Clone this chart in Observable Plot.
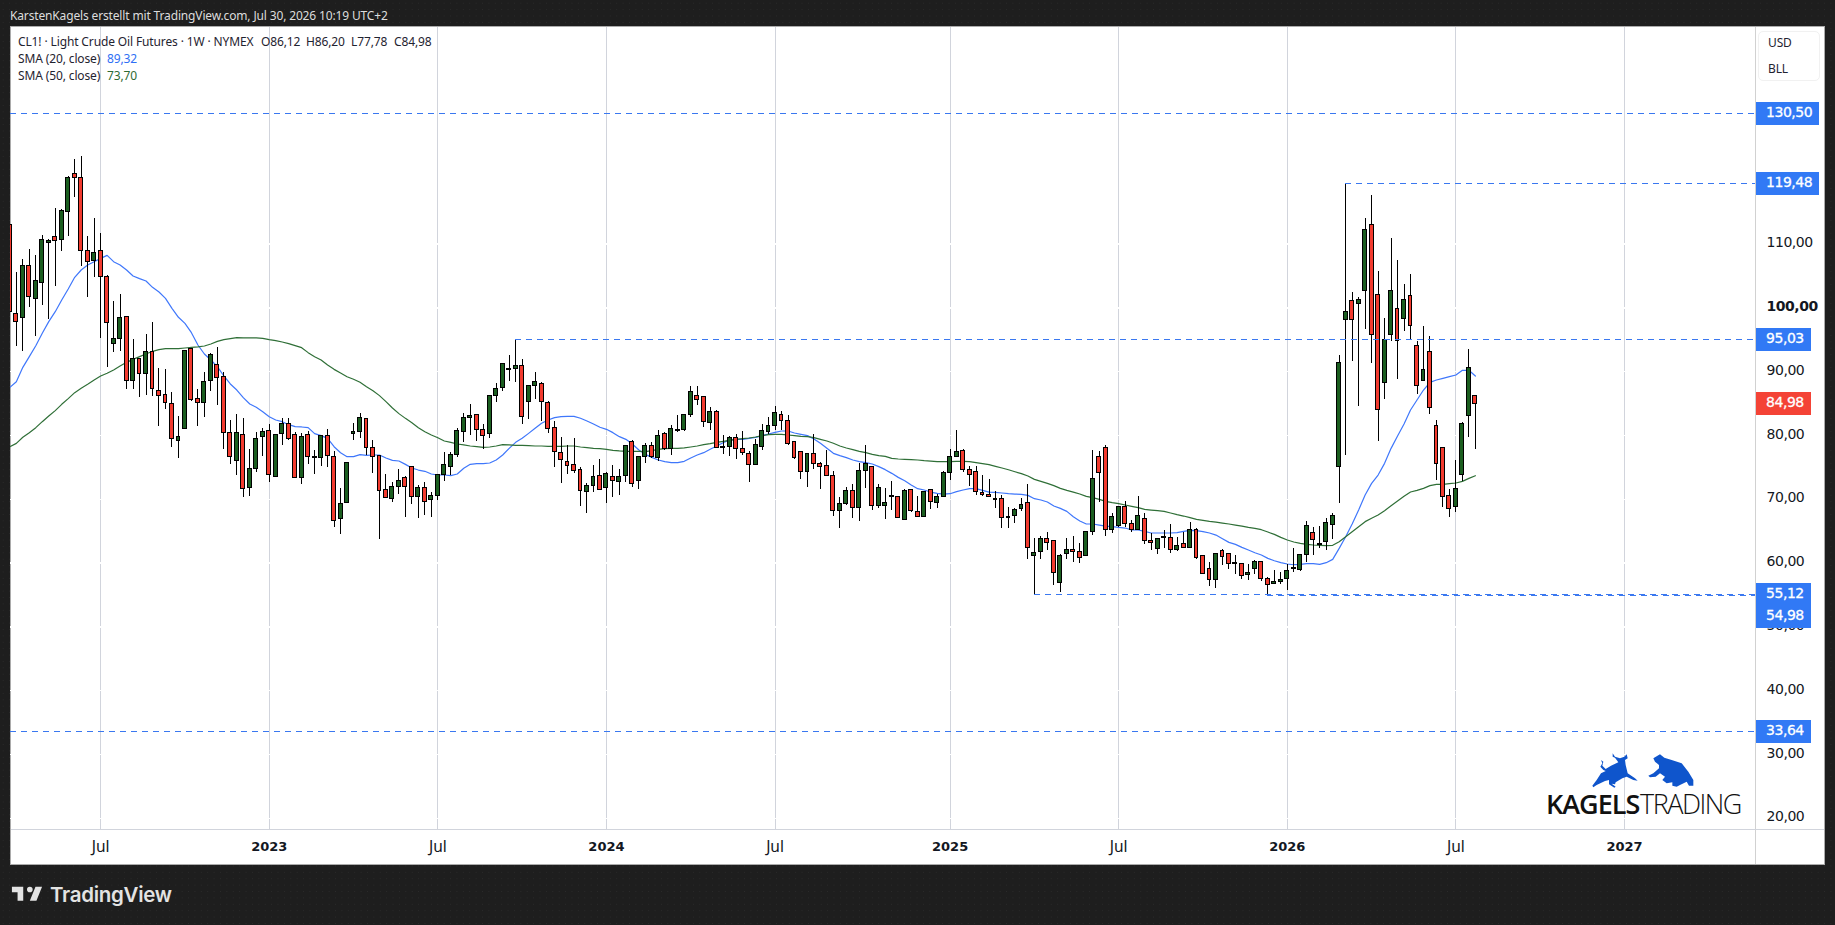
<!DOCTYPE html>
<html><head><meta charset="utf-8">
<script src="https://cdn.jsdelivr.net/npm/d3@7"></script>
<script src="https://cdn.jsdelivr.net/npm/@observablehq/plot@0.6"></script>
<style>
html,body{margin:0;padding:0;width:1835px;height:925px;overflow:hidden}
body{background-color:#1e1e1e;background-image:radial-gradient(#2b2b2b .6px,transparent .8px);background-size:6.4px 6.4px;position:relative;font-family:"DejaVu Sans",sans-serif}
#panel{position:absolute;left:10px;top:26px;width:1813px;height:837px;background:#fff;border:1px solid #ababab;box-sizing:content-box}
#sepV{position:absolute;left:1755px;top:27px;width:1px;height:837px;background:#d1d1d1}
#sepH{position:absolute;left:11px;top:829px;width:1813px;height:1px;background:#d1d4dc}
#chart{position:absolute;left:0;top:0}
#chart g[aria-label="y-axis tick label"] text,#chart .prc text{letter-spacing:-.45px}
.t{position:absolute;white-space:pre;line-height:16px}
#hdr{left:10px;top:8px;color:#dcdcdc;font:12px/16px "Noto Sans",sans-serif;letter-spacing:-.15px}
.lg{color:#1f2330;font:12px/16px "Noto Sans",sans-serif;letter-spacing:-.13px}
#unit{position:absolute;left:1758px;top:31px;width:62px;height:50px;border:1px solid #f1f1f1;border-radius:5px;box-sizing:border-box}
.logo{top:785px;line-height:38px;font-family:"Open Sans",sans-serif;font-size:27px;color:#111}
#tvT{left:50px;top:881px;font:600 20.5px/28px Inter,sans-serif;color:#e3e3e3;letter-spacing:-.3px}
svg.ic{position:absolute}
</style></head><body>
<div id="panel"></div>
<div id="chart"></div>
<div id="sepV"></div><div id="sepH"></div>
<div class="t" id="hdr">KarstenKagels erstellt mit TradingView.com, Jul 30, 2026 10:19 UTC+2</div>
<div class="t lg" style="left:18px;top:34px">CL1! · Light Crude Oil Futures · 1W · NYMEX</div>
<div class="t lg" style="left:261px;top:34px">O86,12</div>
<div class="t lg" style="left:306px;top:34px">H86,20</div>
<div class="t lg" style="left:351px;top:34px">L77,78</div>
<div class="t lg" style="left:394px;top:34px">C84,98</div>
<div class="t lg" style="left:18px;top:51px">SMA (20, close)</div>
<div class="t lg" style="left:107px;top:51px;color:#2f6ff5">89,32</div>
<div class="t lg" style="left:18px;top:68px">SMA (50, close)</div>
<div class="t lg" style="left:107px;top:68px;color:#2e6b34">73,70</div>
<div id="unit"></div>
<div class="t lg" style="left:1768px;top:35px">USD</div>
<div class="t lg" style="left:1768px;top:61px">BLL</div>
<svg class="ic" style="left:1585px;top:745px" width="125" height="50" viewBox="0 0 375 150">
<path fill="#0f55cc" d="M48 45L55 50L52 62L62 72L78 62L100 52L90 38L83 35L83 25L90 35L105 40L118 35L125 28L128 40L120 45L122 60L128 85L150 100L158 107L145 105L125 95L112 100L92 112L90 118L80 116L92 125L88 128L72 118L72 105L60 108L35 120L25 127L22 122L35 105L48 85L62 78L55 75L46 65L52 55Z"/>
<path fill="#0f55cc" d="M205 40L225 28L238 38L260 45L290 55L310 80L325 105L325 122L312 122L305 110L285 120L275 125L262 122L262 112L245 115L232 105L240 95L225 85L212 95L195 97L190 92L205 85L222 70L222 60L210 50Z"/>
</svg>
<div class="t logo" style="left:1546px;font-weight:600;letter-spacing:-1px">KAGELS</div>
<div class="t logo" style="left:1640px;font-weight:300;letter-spacing:-1.5px">TRADING</div>
<svg class="ic" style="left:10px;top:881px" width="34" height="26.4" viewBox="0 0 36 28"><path fill="#e3e3e3" d="M14 6H2v6h6v9h6V6Zm14 15h-7l6-15h7l-6 15Zm-7-9a3 3 0 1 0 0-6 3 3 0 0 0 0 6Z"/></svg>
<div class="t" id="tvT">TradingView</div>
<script>
// Weekly candles CL1!, index 0 = first candle visible at the left edge
const opens=[113,99,98.37,106.52,101.35,103.96,110.23,111.07,110.6,114.98,
120.94,120.31,108.87,107.3,108.87,104.85,94.4,95.08,98.53,88.49,
91.94,89.59,93.04,86.93,86.3,84.89,79.19,80.97,93.51,85.67,
85.15,88.49,91,89.12,80.34,75.95,80.03,71.72,74.7,79.82,
80.66,73.45,80.19,81.75,80.03,73.29,80.03,76.58,76.42,79.87,
76.58,66.86,69.37,80.19,80.5,82.54,77.99,76.74,71.41,70,
71.88,73.29,75.01,70.31,71.72,69.84,70.47,73.87,75.02,77,
80.61,82.8,83.17,80.82,80.19,86.14,87.4,90.27,90.48,90.85,
85.2,87.71,88.03,85.05,81.13,77.21,75.8,75.33,74.55,71.1,
72.04,73.6,71.72,73.45,72.66,73.6,78.93,72.82,76.58,78.31,
76.43,80.19,77.84,80.66,80.82,83.17,86.14,85.99,81.91,83.64,
78.1,78.15,79.56,77.84,77.05,75.33,78.15,80.5,81.44,83.17,
82.23,78.93,77.37,74.23,77.05,75.49,75.17,73.6,68.12,69.22,
71.25,68.59,74.39,75.02,68.9,69,70.36,70.31,66.7,71.41,
67.96,67.17,71.41,69.37,70.41,74.07,76.58,77.52,74.54,74.23,
70.93,70.62,69.89,69.99,67.07,67.33,68.43,69.37,61.06,61.69,
63.72,63.41,56.83,61.37,62,61.69,61.06,64.82,76.58,77.99,
65.14,65.76,68.74,66.08,65.14,66.86,63.41,62.16,63.93,63.88,
62,62.94,62.31,65.14,61.06,59.02,57.3,61.84,61.37,59.86,
59.81,58.08,59.02,60.12,57.45,56.67,56.98,57.45,59.02,58.87,
61.22,64.66,62.79,63.26,65.92,75.01,98.06,101.03,100.56,102.6,
112.95,101.97,88.18,95.7,99.78,98.21,101.82,93.98,88.49,93.04,
81.44,77.99,70.47,68.74,73.76,83.01,86.12];
const closes=[99.41,97.85,106.52,101.76,104.17,110.6,110.44,110.44,115.19,120.31,
120.42,108.87,107.15,108.56,104.8,97.58,95.08,98.37,88.49,91.94,
89.59,93.04,87.24,86.14,85.04,79.4,79.72,93.2,85.52,85.15,
88.34,92.57,88.96,80.34,76.58,80.34,71.56,74.7,79.4,80.5,
73.76,80.03,81.75,79.4,73.29,79.72,76.58,76.42,79.87,76.74,
66.55,69.21,75.64,80.5,82.69,77.99,76.58,71.25,70.15,71.88,
72.82,71.88,70.31,71.72,69.53,70.47,73.76,75.33,76.9,80.66,
82.7,83.01,80.82,79.98,86.14,87.24,91.16,90.38,90.85,82.85,
87.71,88.34,85.2,80.97,77.37,76.11,75.17,74.39,71.25,72.04,
73.45,71.41,73.92,72.82,73.45,78.31,72.35,76.58,78.31,76.58,
79.87,77.84,80.97,80.82,83.17,86.77,85.52,82.07,83.64,77.99,
78.2,79.56,77.84,77.21,75.33,78.46,80.66,81.44,83.48,82.23,
78.62,76.43,74.23,77.05,75.49,75.02,73.6,68.12,69.22,71.25,
68.59,74.39,75.49,68.9,71.72,69.37,70.46,67.02,71.25,68.11,
67.17,71.09,69.52,70.31,74.07,76.58,77.36,74.54,73.76,71.09,
70.62,70.31,69.99,67.02,67.17,68.27,69.05,62.31,61.53,63.72,
63.1,58.39,61.06,62,61.69,60.75,64.82,73.13,74.07,65.14,
67.17,68.74,66.08,65.14,67.33,63.41,63.1,63.72,64.04,62,
62.63,62.31,65.14,60.75,58.24,57.3,61.37,60.9,59.81,59.96,
57.92,58.39,60.12,57.45,56.51,56.98,57.3,58.71,59.18,61.22,
65.76,63.57,62.94,66.23,67.33,91.31,99.31,98.06,101.19,112.16,
95.7,83.95,94.92,102.6,94.76,101.19,97.11,87.71,90.22,84.26,
75.48,70.31,68.43,71.56,81.75,90.53,84.98];
const highs=[113,105.58,107.62,109.18,108.14,111.38,110.8,115.61,115.35,120.52,
123.34,123.81,111.27,114.04,111.59,105.11,101.03,102.03,98.68,95.08,
92.1,95.91,97.74,90.43,90.27,86.77,83.06,93.4,93.67,87.29,
89.8,92.88,93.82,89.9,82.43,83.32,82.69,77.83,80.45,81.13,
81.65,80.19,82.69,82.69,80.5,80.34,80.6,77.68,80.03,81.02,
77.52,71.72,75.8,81.81,83.53,82.69,79.25,76.84,73.92,72.66,
74.7,73.6,75.12,72.09,72.66,71.09,73.92,77.37,77.37,81.13,
83.38,84.94,83.27,81.76,86.14,88.18,91.32,92.47,95.03,91.94,
87.87,89.91,88.34,85.36,82.23,79.72,78.46,79.56,75.02,72.51,
75.33,76.27,74.23,75.33,74.7,78.46,79.25,76.58,78.78,78.93,
80.82,80.5,81.6,83.17,83.17,87.71,87.71,86.14,84.42,83.95,
80.03,79.87,80.19,80.66,77.52,79.4,81.76,82.75,84.58,83.79,
83.17,79.09,77.52,77.05,80.19,75.8,77.68,74.39,70.31,71.88,
72.4,75.64,78.46,75.17,72.35,71.72,72.82,70.46,71.56,71.56,
70.46,71.25,71.41,70.83,74.38,77.83,80.86,77.83,75.17,75.17,
73.76,73.13,71.25,70.62,68.74,68.58,70.15,72.35,63.88,64.19,
64.82,63.41,61.37,63.88,64.19,63.1,64.82,77.68,77.52,78.46,
67.8,68.9,69.68,66.7,70.46,67.8,64.66,63.88,65.14,66.08,
64.04,64.82,66.39,65.45,61.06,60.12,61.37,62.16,61.53,61.22,
59.81,59.81,60.43,60.28,57.77,58.92,58.55,59.81,62.31,61.37,
66.55,65.61,65.76,67.02,67.8,92.57,119.48,102.44,101.66,114.04,
117.65,105.74,98.37,110.91,107.46,103.7,105.27,94.76,97.11,95.55,
82.38,78.15,71.56,76.11,82.07,93.51,86.2];
const lows=[99.41,93.93,93.14,100.04,95.49,100.35,98.26,103.33,108.82,111.27,
117.28,106.57,101.61,104.74,95.18,90.64,92.99,93.14,87.19,87.29,
85.93,86.35,86.09,81.39,84.1,78.15,76.37,80.97,85.31,81.39,
82.8,86.87,84.78,77.78,75.43,73.71,70.26,70.41,74.18,76.79,
72.61,73.45,78.51,79.19,73.29,72.3,75.43,73.86,75.12,75.01,
65.56,64.46,69.37,79.19,79.56,76.84,74.02,63.73,70.15,69.47,
70.68,67.12,69.16,67.02,67.44,67.12,69.79,72.77,73.81,76.53,
78.88,79.98,78.99,77.78,79.51,85.15,86.88,88.44,88.29,81.7,
82.49,85.57,82.17,80.29,74.96,72.46,73.87,74.02,68.85,67.75,
71.04,71.36,69.32,70.26,70.57,72.61,71.83,71.51,75.59,76.37,
75.9,77.68,76.84,80.45,80.66,82.85,84.68,81.18,80.71,77.99,
77,76.74,76.22,76.9,72.61,75.33,77.63,80.19,80.82,80.82,
78.46,76.27,73.08,71.83,74.65,71.51,73.6,67.28,65.45,69.11,
67.07,66.5,71.72,68.22,68.59,66.81,68.27,67.02,66.7,67.96,
67.17,67.17,68.48,68.64,70.26,72.92,76.58,74.23,71.98,70.62,
70.46,70.31,68.53,65.4,65.4,66.18,68.11,60.59,55.12,60.59,
62,56.51,55.36,60.59,60.12,59.96,61.06,64.35,69.52,64.19,
64.66,65.61,65.61,64.82,65.14,62.94,62.05,61.43,62.31,61.48,
61.84,62.31,62.31,60.59,58.24,56.3,56.04,59.65,59.02,58.24,
57.45,57.3,58.24,57.14,54.98,56.67,56.67,55.78,58.55,58.71,
60.17,61.22,62.32,62,63.67,69.37,76.84,91.58,84.52,96.59,
91.26,79.04,85.62,94.71,88.75,96.28,94.87,86.4,88.49,83.27,
72.92,68.74,67.12,67.96,72.77,79.66,77.78];
const sma20=[87.55,88.44,90.69,92.36,94.08,96.02,97.85,99.41,101.24,102.97,
104.8,105.94,106.73,107.25,107.77,108.24,107.25,106.73,105.94,105,
104.59,104.22,103.23,102.5,101.5,99.94,98.53,97.58,96.12,94.19,
92.78,91.84,90.79,89.33,88.08,87.13,85.93,84.94,84.42,83.74,
82.95,82.43,82.17,81.7,81.39,81.34,81.23,80.29,79.98,79.56,
78.25,77.31,76.69,76.69,77,76.89,76.95,76.95,76.48,76.11,
76.01,75.48,74.91,74.59,74.39,73.97,73.81,73.81,73.71,73.97,
74.86,75.49,75.59,75.59,75.69,76.16,76.95,77.99,78.93,79.56,
80.34,81.13,81.91,82.43,82.8,82.96,83.01,83.01,82.7,82.28,
81.81,81.29,80.97,80.45,79.82,79.4,78.67,77.73,77.05,76.58,
76.16,75.9,75.75,75.75,75.96,76.48,76.95,77.31,77.84,78.36,
78.88,79.3,79.4,79.4,79.56,79.72,79.98,80.24,80.5,80.71,
80.71,80.4,80.19,79.98,79.46,78.78,77.99,77.21,76.84,76.53,
76.16,75.9,75.75,75.54,75.12,74.65,74.07,73.44,72.92,72.24,
71.67,71.46,71.14,70.93,70.83,70.88,71.2,71.46,71.67,71.67,
71.41,71.14,71.09,70.99,70.88,70.83,70.78,70.62,70.1,69.89,
69.58,68.95,68.58,68.11,67.28,66.6,66.13,66.13,65.97,65.81,
65.71,65.61,65.5,65.19,65.19,64.98,64.72,64.72,64.72,64.72,
64.77,64.98,65.14,65.08,64.93,64.72,64.4,63.83,63.25,62.94,
62.47,62.05,61.63,61.27,60.75,60.38,60.07,59.86,59.75,59.81,
59.91,59.91,59.81,60.07,60.59,62.32,64.14,66.13,68.32,70.68,
72.5,73.81,75.64,77.99,79.92,81.81,84,85.57,87.13,88.34,
88.7,88.96,89.22,89.49,90.22,90.22,89.32];
const sma50=[78.25,78.77,79.72,80.45,81.23,82.17,83.06,83.9,84.89,85.78,
86.72,87.4,88.02,88.7,89.33,89.75,90.27,90.9,91.47,91.94,
92.36,92.78,93.2,93.46,93.61,93.61,93.61,93.72,93.82,93.88,
94.03,94.35,94.76,95.02,95.18,95.34,95.29,95.29,95.29,95.23,
95.02,94.87,94.66,94.4,94.08,93.77,92.99,92.36,91.84,91.05,
90.37,89.8,89.22,88.81,88.34,87.66,87.03,86.25,85.31,84.31,
83.43,82.69,82.01,81.23,80.6,80.08,79.66,79.14,78.93,78.67,
78.52,78.36,78.25,78.15,78.2,78.36,78.57,78.52,78.46,78.46,
78.41,78.36,78.36,78.31,78.31,78.31,78.36,78.36,78.2,78.1,
77.99,77.94,77.84,77.68,77.58,77.52,77.52,77.52,77.47,77.63,
77.84,77.94,77.99,77.99,78.05,78.2,78.36,78.57,78.73,78.93,
79.09,79.25,79.4,79.51,79.61,79.77,79.98,80.14,80.19,80.19,
80.08,79.98,79.87,79.82,79.67,79.4,79.14,78.78,78.36,78.05,
77.78,77.52,77.31,77.05,76.84,76.74,76.42,76.32,76.26,76.21,
76.16,76.06,76,75.9,75.9,75.9,75.95,75.95,75.9,75.74,
75.59,75.43,75.17,74.91,74.64,74.33,74.02,73.65,73.13,72.82,
72.5,72.14,71.72,71.41,71.14,70.83,70.46,70.26,69.99,69.68,
69.47,69.32,69.11,68.9,68.69,68.43,68.32,68.22,68.11,67.85,
67.59,67.38,67.12,66.86,66.7,66.55,66.44,66.28,66.13,65.97,
65.81,65.61,65.45,65.24,64.87,64.51,64.04,63.62,63.31,63.1,
62.94,62.84,62.79,62.73,62.79,63.36,64.14,64.93,65.71,66.5,
67.02,67.54,68.22,69,69.74,70.47,71.15,71.41,71.72,72.14,
72.35,72.35,72.45,72.56,72.82,73.29,73.7];

const lineLevels=[130.5,119.48,95.03,55.12,54.98,33.64];
const lineStarts=[0.1,206,78,158,194,0.1];
const lineLabels=["130,50","119,48","95,03","55,12","54,98","33,64"];
const labelShift=[0,0,0,0,21.7,0];
const lastPrice=84.98, lastLabel="84,98";
const priceTicks=[20,30,40,50,60,70,80,90,110];
const timeTicks=[14,40,66,92,118,145,171,197,223,249];
const timeLabels=["Jul","2023","Jul","2024","Jul","2025","Jul","2026","Jul","2027"];

const xMin=0.1,xMax=269.2;
const fmt=d=>d.toFixed(2).replace(".",",");
const idx=d3.range(opens.length);
const UP="#1b5e20",DOWN="#f23b2f",BLUE="#3179f5";
const tagEnd=s=>s.length>5?279.05:277.9;
const AX="DejaVu Sans";
const lab=new Map(timeTicks.map((t,i)=>[t,timeLabels[i]]));
const crisp={shapeRendering:"crispEdges"};
const tagText={textAnchor:"start",dx:10.5,fill:"#fff",stroke:"#fff",strokeWidth:0.3,fontSize:14,fontFamily:AX,className:"prc"};

const chart=Plot.plot({
  width:1835,height:925,
  marginLeft:10,marginRight:80,marginTop:26.5,marginBottom:96,
  style:{background:"transparent",overflow:"visible"},
  x:{type:"linear",domain:[xMin,xMax]},
  y:{type:"linear",domain:[18.25,144.03]},
  marks:[
    Plot.ruleX(timeTicks,{x:d=>d,stroke:"#d1d4dc",strokeWidth:1,...crisp}),
    Plot.ruleY([...priceTicks,100],{y:d=>d,stroke:"#fff",strokeWidth:1.5,...crisp}),
    Plot.line(idx,{x:d=>d,y:d=>sma20[d],stroke:"#3f77fb",strokeWidth:1.2,clip:true}),
    Plot.line(idx,{x:d=>d,y:d=>sma50[d],stroke:"#2f6f37",strokeWidth:1.2,clip:true}),
    Plot.ruleX(idx,{x:d=>d,y1:d=>lows[d],y2:d=>highs[d],stroke:"#000",strokeWidth:1,clip:true,...crisp}),
    Plot.rect(idx,{x1:d=>d-0.3,x2:d=>d+0.3,y1:d=>Math.min(opens[d],closes[d]),y2:d=>Math.max(opens[d],closes[d]),
      fill:d=>closes[d]>=opens[d]?UP:DOWN,stroke:"#000",strokeWidth:1,clip:true,...crisp}),
    Plot.ruleY(lineLevels,{y:d=>d,x1:(d,i)=>lineStarts[i],x2:xMax,stroke:"#3a78f0",strokeWidth:1,strokeDasharray:"6,5",...crisp}),
    Plot.axisX(timeTicks.filter(t=>lab.get(t)==="Jul"),{anchor:"bottom",tickSize:0,tickPadding:11.5,fontSize:15.5,fontFamily:"Noto Sans",fill:"#131722",tickFormat:t=>lab.get(t),label:null}),
    Plot.axisX(timeTicks.filter(t=>lab.get(t)!=="Jul"),{anchor:"bottom",tickSize:0,tickPadding:12.5,fontSize:13,fontWeight:"bold",fontFamily:AX,fill:"#131722",tickFormat:t=>lab.get(t),label:null}),
    Plot.axisY(priceTicks,{anchor:"right",tickSize:0,tickPadding:11,dy:-1.5,fontSize:14,fontFamily:AX,fill:"#131722",tickFormat:fmt,label:null,className:"prc"}),
    Plot.axisY([100],{anchor:"right",tickSize:0,tickPadding:11,dy:-1.5,fontSize:14,fontWeight:"bold",fontFamily:AX,fill:"#131722",tickFormat:fmt,label:null,className:"prc"}),
    Plot.ruleY(lineLevels,{y:d=>d,x1:xMax,x2:(d,i)=>tagEnd(lineLabels[i]),stroke:BLUE,strokeWidth:23,...crisp,filter:(d,i)=>labelShift[i]===0}),
    Plot.ruleY(lineLevels.filter((d,i)=>labelShift[i]!==0),{y:d=>d,x1:xMax,x2:277.9,dy:21.7,stroke:BLUE,strokeWidth:23,...crisp}),
    Plot.ruleY([lastPrice],{y:d=>d,x1:xMax,x2:277.9,stroke:"#f44336",strokeWidth:23,...crisp}),
    Plot.text(lineLevels,{y:d=>d,x:xMax,text:(d,i)=>lineLabels[i],dy:-1,...tagText,filter:(d,i)=>labelShift[i]===0}),
    Plot.text(lineLevels.filter((d,i)=>labelShift[i]!==0),{y:d=>d,x:xMax,text:fmt,dy:20.7,...tagText}),
    Plot.text([lastPrice],{y:d=>d,x:xMax,text:()=>lastLabel,dy:-1,...tagText})
  ]
});
document.getElementById("chart").appendChild(chart);
</script>
</body></html>
